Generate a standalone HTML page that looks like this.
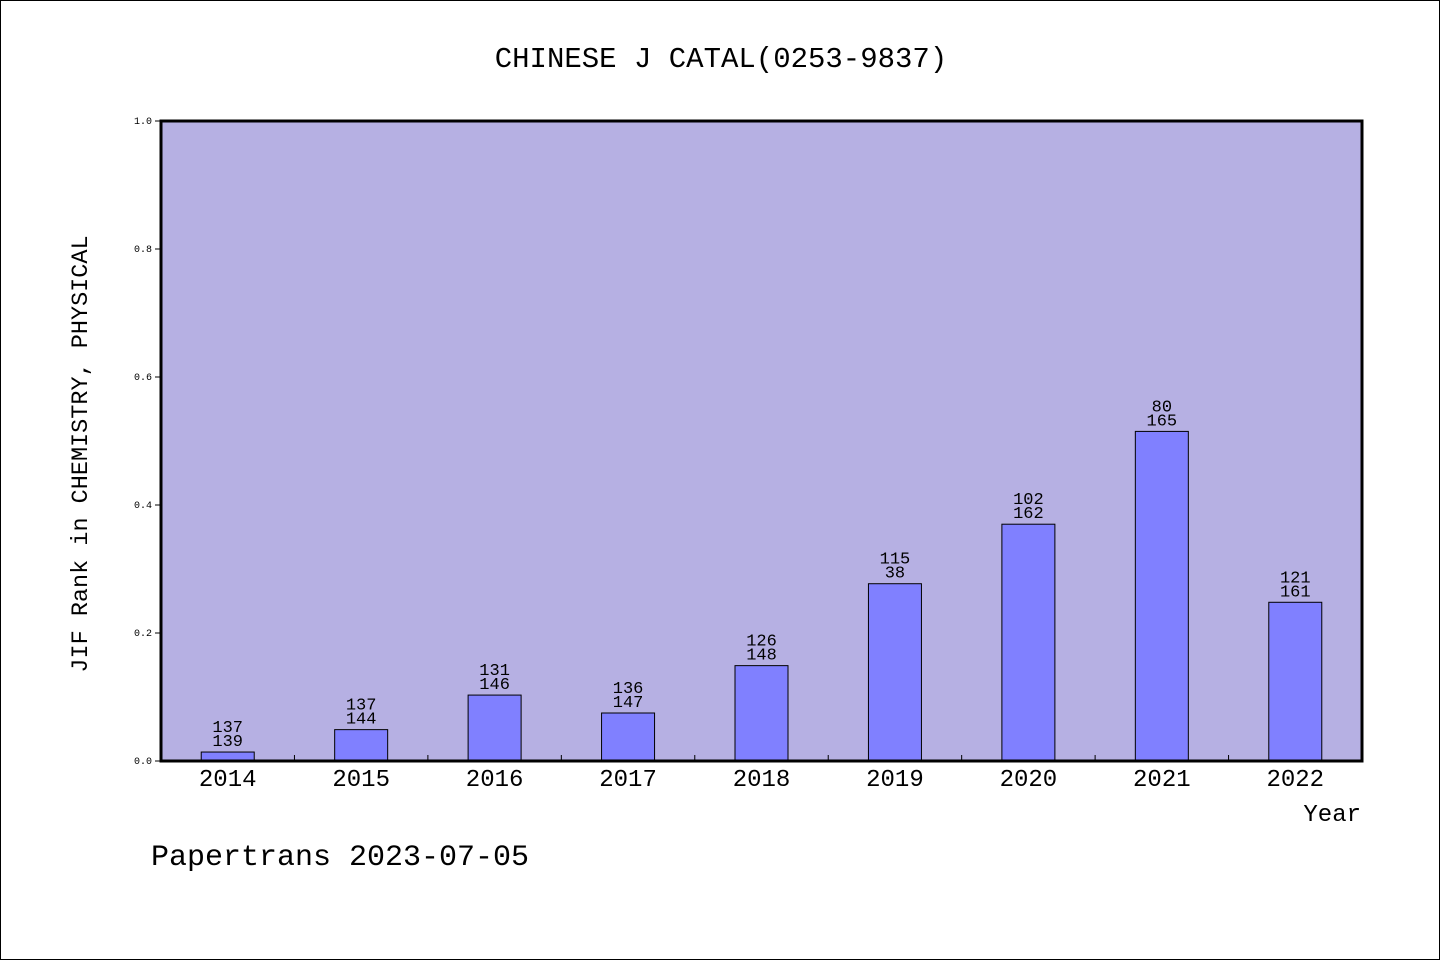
<!DOCTYPE html>
<html><head><meta charset="utf-8"><style>
html,body{margin:0;padding:0;background:#fff}
#wrap{position:relative;width:1440px;height:960px;box-sizing:border-box;border:1px solid #000;overflow:hidden}
svg text{font-family:"Liberation Mono","DejaVu Sans Mono",monospace}
</style></head><body>
<div id="wrap">
<svg id="chart" width="1440" height="960"></svg>
</div>
<script>
const categories=["2014","2015","2016","2017","2018","2019","2020","2021","2022"];
const values=[0.014,0.049,0.103,0.075,0.149,0.277,0.370,0.515,0.248];
const labelTop=["137","137","131","136","126","115","102","80","121"];
const labelBottom=["139","144","146","147","148","38","162","165","161"];
const yTicks=["0.0","0.2","0.4","0.6","0.8","1.0"];

const NS="http://www.w3.org/2000/svg";
const svg=document.getElementById('chart');
const L=160,R=1361,T=120,B=760;
const band=(R-L)/categories.length;
const y=v=>B-(B-T)*v;
const xc=i=>L+band*(i+0.5);
function mk(tag,attrs,txt){const e=document.createElementNS(NS,tag);for(const k in attrs)e.setAttribute(k,attrs[k]);if(txt!==undefined)e.textContent=txt;svg.appendChild(e);return e;}

let e;
e=mk('rect',{x:L,y:T,width:R-L,height:B-T,fill:'#b6b0e3'});



e=mk('text',{x:720,y:66,'text-anchor':'middle','font-size':29,fill:'#000'},'CHINESE J CATAL(0253-9837)');



yTicks.forEach(t=>{
  const v=parseFloat(t);
  let a=mk('line',{x1:L-6,x2:L,y1:y(v),y2:y(v),stroke:'#000','stroke-width':1});
  
  
  let b=mk('text',{x:L-9,y:y(v)+3,'text-anchor':'end','font-size':10,fill:'#000'},t);
  
  
});

for(let i=1;i<categories.length;i++){
  let a=mk('line',{x1:L+band*i,x2:L+band*i,y1:B,y2:B-6,stroke:'#000','stroke-width':1});
  
  
}

categories.forEach((c,i)=>{
  const bw=53;
  let r=mk('rect',{x:xc(i)-bw/2,y:y(values[i]),width:bw,height:B-y(values[i]),fill:'#8080ff',stroke:'#000','stroke-width':1});
  
  
  let t1=mk('text',{x:xc(i),y:y(values[i])-20,'text-anchor':'middle','font-size':17,fill:'#000'},labelTop[i]);
  
  
  let t2=mk('text',{x:xc(i),y:y(values[i])-6,'text-anchor':'middle','font-size':17,fill:'#000'},labelBottom[i]);
  
  
  let xl=mk('text',{x:xc(i),y:B+25,'text-anchor':'middle','font-size':24,fill:'#000'},c);
  
  
});

e=mk('rect',{x:L,y:T,width:R-L,height:B-T,fill:'none',stroke:'#000','stroke-width':3});



e=mk('text',{x:1360,y:820,'text-anchor':'end','font-size':24,fill:'#000'},'Year');



e=mk('text',{x:0,y:0,'text-anchor':'middle','font-size':23.5,fill:'#000',transform:'translate(86,453) rotate(-90)'},'JIF Rank in CHEMISTRY, PHYSICAL');



e=mk('text',{x:150,y:864,'font-size':30,fill:'#000'},'Papertrans 2023-07-05');


</script>
</body></html>
